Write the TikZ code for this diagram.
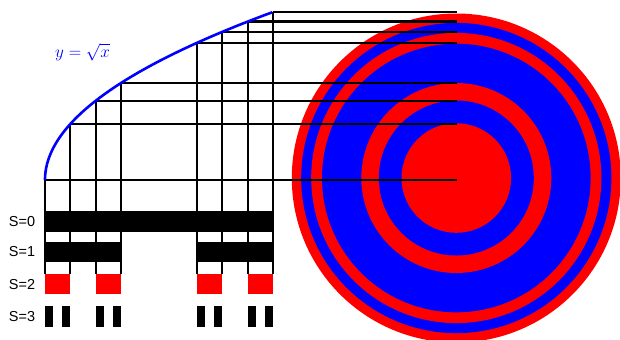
\documentclass[tikz,border=0pt]{standalone}
\usepackage{fontspec}
\setsansfont{Liberation Sans}
\begin{document}
\begin{tikzpicture}[x=1bp,y=-1bp,
  gridline/.style={black,line width=2.3bp},
  curveline/.style={blue,line width=2.6bp},
  barfill/.style={fill=black},
  redfill/.style={fill=red},
  lab/.style={font=\sffamily\fontsize{14.5}{16}\selectfont,inner sep=0pt}]
\useasboundingbox (0,0) rectangle (620,339);
\clip (0,0) rectangle (620,339);
% disc
\coordinate (c) at (456.3,178);
\fill[red]  (c) circle[radius=164.5bp];
\fill[blue] (c) circle[radius=155.1bp];
\fill[red]  (c) circle[radius=145.1bp];
\fill[blue] (c) circle[radius=134.3bp];
\fill[red]  (c) circle[radius=95bp];
\fill[blue] (c) circle[radius=77.5bp];
\fill[red]  (c) circle[radius=54.8bp];
% grid lines
\foreach \t in {0,1/9,2/9,1/3,2/3,7/9,8/9,1}{
  \pgfmathsetmacro{\px}{45+228*\t}
  \pgfmathsetmacro{\py}{180-168*sqrt(\t)}
  \draw[gridline] (\px,\py) -- (456.5,\py);
  \draw[gridline] (\px,\py) -- (\px,274);
}
% curve
\draw[curveline] plot[domain=0:1,samples=120,variable=\s] ({45+228*\s*\s},{180-168*\s});
\node[blue,anchor=base west,inner sep=0pt,font=\fontsize{18.5}{22}\selectfont] (lbl) at (55,57) {$y=\sqrt{x}$};
% bars
\fill[barfill] (45,210.7) rectangle (273,231.7);
\fill[barfill] (45,241.7) rectangle (121,261.7);
\fill[barfill] (197,241.7) rectangle (273,261.7);
\foreach \a in {0,2/9,2/3,8/9}{
  \fill[redfill] ({45+228*\a},274) rectangle ({45+228*(\a+1/9)},294.3);
}
\foreach \a in {0,2/27,6/27,8/27,18/27,20/27,24/27,26/27}{
  \fill[barfill] ({45+228*\a},305.7) rectangle ({45+228*(\a+1/27)},326.7);
}
% labels
\node[lab] (s0) at (22,221.2) {S=0};
\node[lab] (s1) at (22,251.7) {S=1};
\node[lab] (s2) at (22,284.2) {S=2};
\node[lab] (s3) at (22,316.2) {S=3};
\end{tikzpicture}
\end{document}
